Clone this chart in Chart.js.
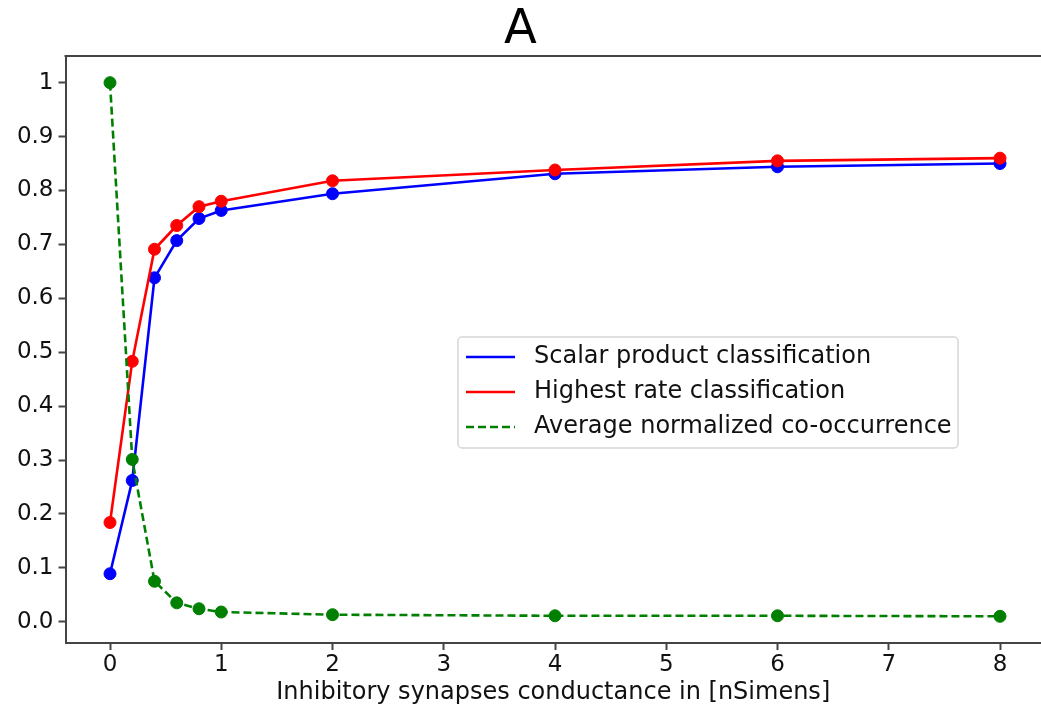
<!DOCTYPE html>
<html><head><meta charset="utf-8">
<script src="https://cdn.jsdelivr.net/npm/chart.js@4.4.0/dist/chart.umd.min.js"></script>
<style>html,body{margin:0;padding:0;overflow:hidden;background:#fff}canvas{display:block}</style>
</head><body>
<canvas id="c" width="1041" height="711"></canvas>
<script>
const conductance   = [0, 0.2, 0.4, 0.6, 0.8, 1, 2, 4, 6, 8];
const scalarProduct = [0.089, 0.262, 0.638, 0.707, 0.748, 0.763, 0.794, 0.831, 0.844, 0.850];
const highestRate   = [0.184, 0.483, 0.691, 0.735, 0.770, 0.780, 0.818, 0.838, 0.855, 0.860];
const coOccurrence  = [1.0, 0.301, 0.075, 0.035, 0.024, 0.018, 0.013, 0.011, 0.011, 0.010];
const seriesLabels  = ['Scalar product classification', 'Highest rate classification', 'Average normalized co-occurrence'];
const seriesColors  = ['#0000ff', '#ff0000', '#008000'];
const xTickValues   = [0, 1, 2, 3, 4, 5, 6, 7, 8];
const yTickValues   = [0, 0.1, 0.2, 0.3, 0.4, 0.5, 0.6, 0.7, 0.8, 0.9, 1.0];
const yTickLabels   = ['0.0', '0.1', '0.2', '0.3', '0.4', '0.5', '0.6', '0.7', '0.8', '0.9', '1'];
const titleText     = 'A';
const xAxisTitle    = 'Inhibitory synapses conductance in [nSimens]';

const FONT = "'DejaVu Sans', sans-serif";
const SPINE = '#444';
const DASH = [8, 4];
const LW = 2.6;

function pts(ys) { return conductance.map((x, i) => ({ x: x, y: ys[i] })); }

const series = [scalarProduct, highestRate, coOccurrence];
const datasets = series.map((ys, i) => ({
  label: seriesLabels[i],
  data: pts(ys),
  borderColor: seriesColors[i],
  backgroundColor: seriesColors[i],
  pointBackgroundColor: seriesColors[i],
  pointBorderColor: seriesColors[i],
  borderWidth: LW,
  borderDash: i === 2 ? DASH : [],
  pointRadius: 6,
  pointBorderWidth: 1,
  tension: 0,
  order: 3 - i
}));

const framePlugin = {
  id: 'frame',
  afterDraw(chart) {
    const ctx = chart.ctx, ca = chart.chartArea;
    ctx.save();
    ctx.strokeStyle = SPINE;
    ctx.lineWidth = 2;
    ctx.beginPath();
    ctx.moveTo(ca.left - 1, ca.top);
    ctx.lineTo(ca.right + 4, ca.top);
    ctx.stroke();

    // legend box
    const lx = ca.left + 392.5, ly = ca.top + 281, lw = 500, lh = 111;
    ctx.beginPath();
    if (ctx.roundRect) ctx.roundRect(lx, ly, lw, lh, 4); else ctx.rect(lx, ly, lw, lh);
    ctx.fillStyle = 'rgba(255,255,255,0.85)';
    ctx.fill();
    ctx.strokeStyle = '#d6d6d6';
    ctx.lineWidth = 1.5;
    ctx.stroke();
    ctx.font = '24px ' + FONT;
    ctx.textBaseline = 'middle';
    ctx.textAlign = 'left';
    seriesLabels.forEach((lab, i) => {
      const y = ly + 20 + i * 35;
      ctx.beginPath();
      ctx.strokeStyle = seriesColors[i];
      ctx.lineWidth = LW;
      ctx.setLineDash(i === 2 ? DASH : []);
      ctx.moveTo(lx + 8, y);
      ctx.lineTo(lx + 57, y);
      ctx.stroke();
      ctx.setLineDash([]);
      ctx.fillStyle = '#111';
      ctx.fillText(lab, lx + 76, y);
    });
    ctx.restore();
  }
};

new Chart(document.getElementById('c'), {
  type: 'line',
  data: { datasets: datasets },
  plugins: [framePlugin],
  options: {
    responsive: false,
    animation: false,
    layout: { autoPadding: false, padding: { left: 0, right: 0, top: 0, bottom: 0 } },
    plugins: {
      legend: { display: false },
      tooltip: { enabled: false },
      title: {
        display: true, text: titleText, color: '#000',
        font: { family: FONT, size: 48, weight: 'normal', lineHeight: 1 },
        padding: { top: 7, bottom: 1 }
      }
    },
    scales: {
      x: {
        type: 'linear', min: -0.4, max: 8.3685,
        afterBuildTicks: s => { s.ticks = xTickValues.map(v => ({ value: v })); },
        afterFit: s => { s.height = 68; },
        ticks: { color: '#111', font: { family: FONT, size: 23 }, padding: 1, maxRotation: 0,
                 callback: v => String(v) },
        grid: { drawOnChartArea: false, drawTicks: true, tickLength: 7, tickWidth: 2, tickColor: SPINE },
        border: { display: true, color: SPINE, width: 2 },
        title: { display: true, text: xAxisTitle, color: '#111',
                 font: { family: FONT, size: 24 }, padding: { top: 0, bottom: 4 } }
      },
      y: {
        type: 'linear', min: -0.0395, max: 1.0495,
        afterBuildTicks: s => { s.ticks = yTickValues.map(v => ({ value: v })); },
        afterFit: s => { s.width = 65.5; },
        ticks: { color: '#111', font: { family: FONT, size: 23 }, padding: 5,
                 callback: (v) => { const k = yTickValues.findIndex(t => Math.abs(t - v) < 1e-9); return k >= 0 ? yTickLabels[k] : ''; } },
        grid: { drawOnChartArea: false, drawTicks: true, tickLength: 7, tickWidth: 2, tickColor: SPINE },
        border: { display: true, color: SPINE, width: 2 }
      }
    }
  }
});
</script>
</body></html>
